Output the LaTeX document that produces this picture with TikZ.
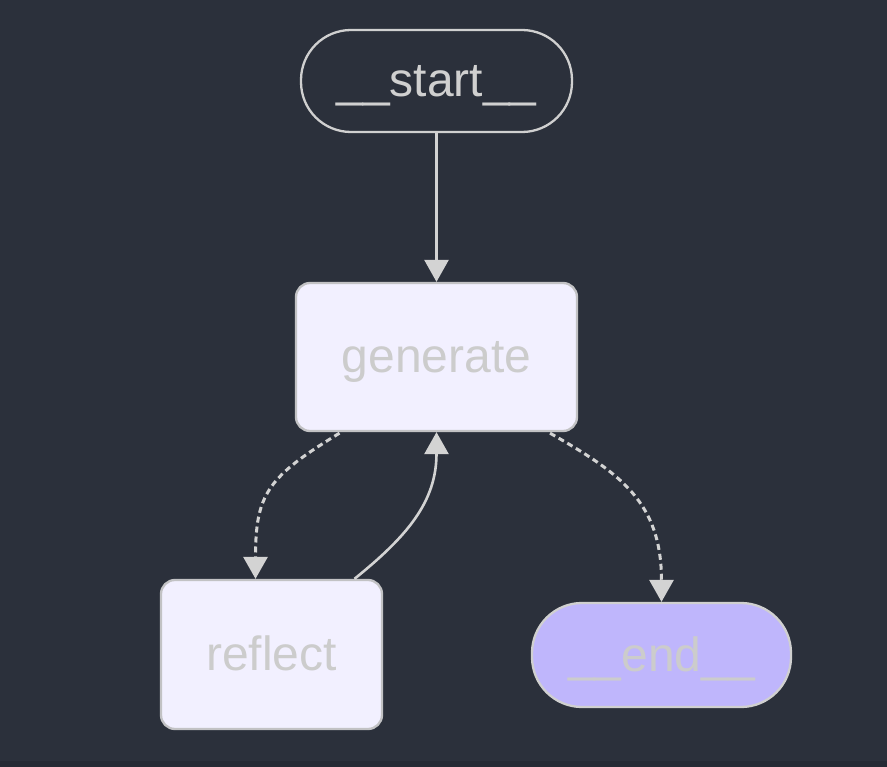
\documentclass[tikz,border=0pt]{standalone}
\usepackage{fontspec}
\setmainfont{Liberation Sans}
\usetikzlibrary{arrows.meta,calc}

\definecolor{canvas}{HTML}{2B303B}
\definecolor{canvasedge}{HTML}{252A34}
\definecolor{edgegray}{HTML}{D3D3D3}
\definecolor{boxfill}{HTML}{F2F0FF}
\definecolor{boxline}{HTML}{C2C2C4}
\definecolor{labelgray}{HTML}{CCCCCC}
\definecolor{termfill}{HTML}{BFB6FC}
\definecolor{termline}{HTML}{D0D0D0}

\tikzset{
  label font/.style={font=\fontsize{48}{54}\selectfont, text height=32pt, text depth=0pt},
  stepbox/.style={draw=boxline, fill=boxfill, line width=2.3pt, rounded corners=14pt,
    inner sep=0pt, text=labelgray, label font},
  startpill/.style={draw=termline, fill=canvas, line width=2.3pt, rounded corners=50pt,
    inner sep=0pt, text=termline, label font},
  endpill/.style={draw=termline, fill=termfill, line width=2.3pt, rounded corners=50pt,
    inner sep=0pt, text=labelgray, label font},
  flow/.style={draw=edgegray, line width=2.6pt,
    -{Triangle[width=24pt,length=22pt,fill=edgegray]}},
  condflow/.style={flow, line width=3pt, dash pattern=on 6pt off 4pt}
}

\begin{document}
\begin{tikzpicture}[x=1pt,y=-1pt]
  % backdrop
  \fill[canvas] (0,0) rectangle (887,767);
  \fill[canvasedge] (0,761) rectangle (887,767);
  \useasboundingbox (0,0) rectangle (887,767);

  % nodes
  \node[startpill, minimum width=271pt, minimum height=102pt] (start) at (436.5,81) {\_\_start\_\_};
  \node[stepbox, minimum width=281pt, minimum height=148pt] (gen) at (436.5,357) {generate};
  \node[stepbox, minimum width=221pt, minimum height=149pt] (refl) at (271.5,654.5) {reflect};
  \node[endpill, minimum width=259pt, minimum height=104pt] (end) at (661.5,655) {\_\_end\_\_};

  % edges
  \draw[flow] (start.south) -- (gen.north);
  \draw[condflow] ($(gen.south)+(-97,1)$) .. controls +(-72,44) and +(0,-85) .. ($(refl.north)+(-16,0)$);
  \draw[flow] ($(refl.north)+(83,0)$) .. controls +(52,-42) and +(0,70) .. (gen.south);
  \draw[condflow] ($(gen.south)+(113.5,1)$) .. controls +(70,40) and +(0,-100) .. (end.north);
\end{tikzpicture}
\end{document}
